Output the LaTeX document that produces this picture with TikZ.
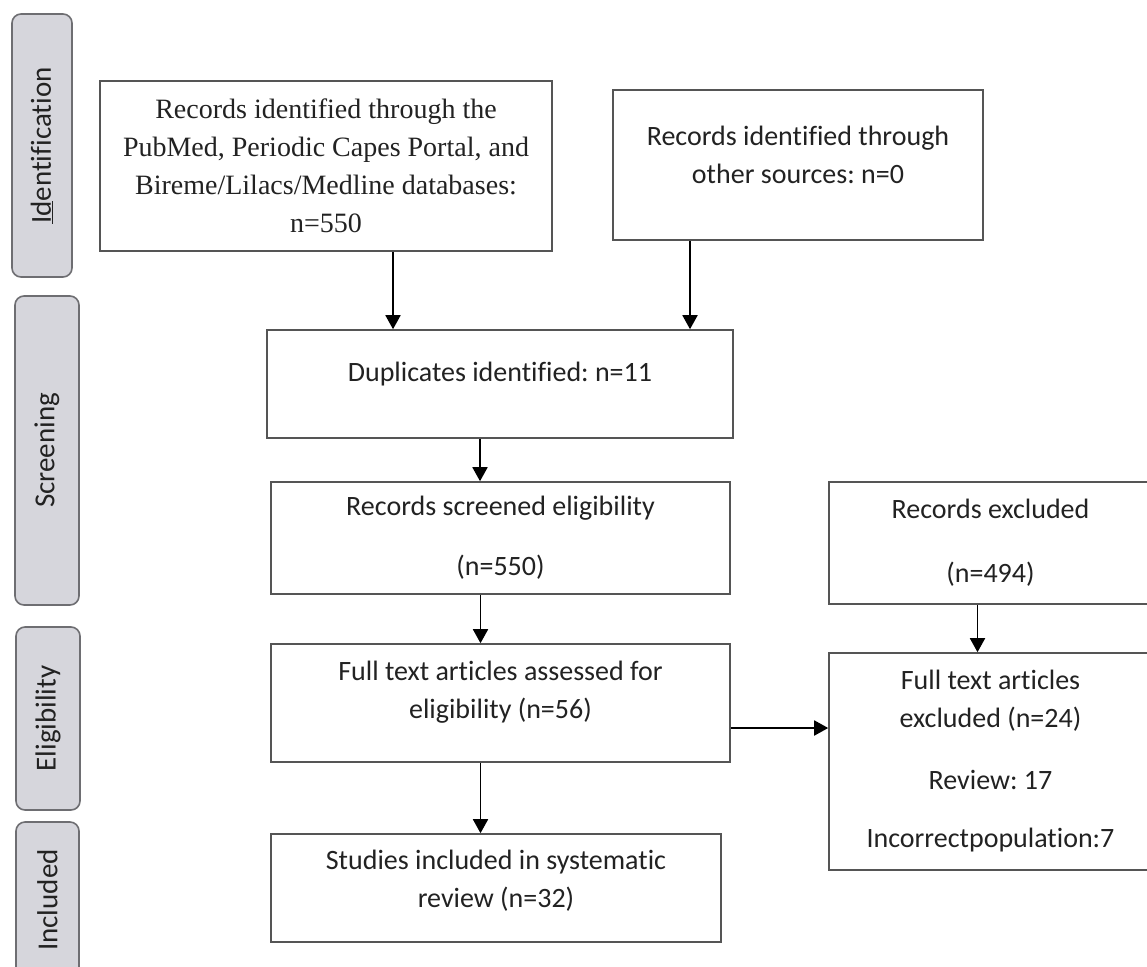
\documentclass[tikz,border=0pt]{standalone}
\usepackage{fontspec}
\setmainfont{Carlito}[Ligatures=NoCommon]
\newfontfamily\dbfont{Liberation Serif}
\usepackage{xcolor}
\usetikzlibrary{arrows.meta,positioning}
\definecolor{boxline}{HTML}{555555}
\definecolor{tabfill}{HTML}{D6D6DC}
\definecolor{tabline}{HTML}{6E6E72}
\definecolor{inktext}{HTML}{222222}
\frenchspacing
\tikzset{
  box/.style={rectangle, draw=boxline, line width=1.6pt, fill=white, align=center,
    text=inktext, font=\fontsize{28}{38}\selectfont, inner sep=0pt},
  dbbox/.style={box, font=\dbfont\fontsize{28}{38}\selectfont},
  phase/.style={rectangle, rounded corners=9pt, draw=tabline, line width=1.6pt,
    fill=tabfill, rotate=90, text=inktext, font=\fontsize{29}{34}\selectfont, inner sep=0pt},
  lift/.style={text depth=#1},
  arr/.style={-{Triangle[length=14pt,width=15pt]}, line width=1.8pt, draw=black},
}

\begin{document}
\begin{tikzpicture}[x=1pt, y=-1pt]
  \clip (0,0) rectangle (1147,966);
  % phase tabs
  \node[phase, minimum width=263, minimum height=60] (tabid) at (42,145.5) {\underline{Id}entification};
  \node[phase, minimum width=309, minimum height=64] (tabscr) at (47,450.5) {Screening};
  \node[phase, minimum width=183, minimum height=64] (tabelig) at (48,718.5) {Eligibility};
  \node[phase, minimum width=156, minimum height=63] (tabincl) at (47.5,900) {Included};

  % flow boxes
  \node[dbbox, minimum width=452, minimum height=170] (srcdb) at (326,166)
    {Records identified through the\\PubMed, Periodic Capes Portal, and\\Bireme/Lilacs/Medline databases:\\n=550};
  \node[box, lift=20, minimum width=370, minimum height=150] (srcother) at (798,165)
    {Records identified through\\other sources: n=0};
  \node[box, lift=24, minimum width=466, minimum height=108] (dup) at (500,384)
    {Duplicates identified: n=11};
  \node[box, minimum width=459, minimum height=112] (scr) at (500.5,538)
    {Records screened eligibility\\[22pt](n=550)};
  \node[box, minimum width=323, minimum height=122] (excl) at (990.5,543)
    {Records excluded\\[26pt](n=494)};
  \node[box, lift=27, minimum width=459, minimum height=118] (full) at (500.5,703)
    {Full text articles assessed for\\eligibility (n=56)};
  \node[box, minimum width=323, minimum height=217] (ftexcl) at (990.5,761.5)
    {Full text articles\\excluded (n=24)\\[24pt]Review: 17\\[20pt]Incorrectpopulation:7};
  \node[box, lift=19, minimum width=450, minimum height=108] (incl) at (496,888)
    {Studies included in systematic\\review (n=32)};

  % arrows
  \draw[arr] ([xshift=67]srcdb.south) -- ([xshift=67]srcdb.south |- dup.north);
  \draw[arr] ([xshift=-108]srcother.south) -- ([xshift=-108]srcother.south |- dup.north);
  \draw[arr] ([xshift=-20]dup.south) -- ([xshift=-20]dup.south |- scr.north);
  \draw[arr] ([xshift=-20]scr.south) -- ([xshift=-20]scr.south |- full.north);
  \draw[arr] ([xshift=-20]full.south) -- ([xshift=-20]full.south |- incl.north);
  \draw[arr] ([yshift=-25]full.east) -- ([yshift=-25]full.east -| ftexcl.west);
  \draw[arr] ([xshift=-13]excl.south) -- ([xshift=-13]excl.south |- ftexcl.north);
\end{tikzpicture}
\end{document}
